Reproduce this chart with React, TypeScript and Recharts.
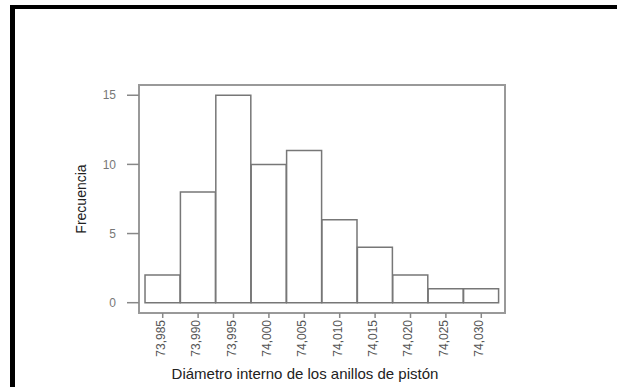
import { BarChart, Bar, XAxis, YAxis, ReferenceArea } from 'recharts';

// histogram bins (class midpoints) and counts
const binCenters = [73.985, 73.99, 73.995, 74.0, 74.005, 74.01, 74.015, 74.02, 74.025, 74.03];
const frequencies = [2, 8, 15, 10, 11, 6, 4, 2, 1, 1];
const yTicks = [0, 5, 10, 15];

const data = binCenters.map((x, i) => ({ x, count: frequencies[i] }));

// axis extents leave a little air between the bars and the frame
const xDomain: [number, number] = [73.98165, 74.03335];
const yDomain: [number, number] = [-0.745, 15.74];

const formatDiameter = (v: number) => v.toFixed(3).replace('.', ',');

function DiameterTick({ x, y, payload }: any) {
  return (
    <g transform={`translate(${x},${y})`}>
      <text transform="rotate(-90)" textAnchor="end" dy={2} fill="#555" fontSize={12}>
        {formatDiameter(payload.value)}
      </text>
    </g>
  );
}

export default function App() {
  return (
    <div
      style={{
        position: 'absolute',
        left: 0,
        top: 0,
        width: 617,
        height: 387,
        background: '#fff',
        overflow: 'hidden',
        fontFamily: '"Liberation Sans", Arial, sans-serif',
      }}
    >
      <div
        style={{
          position: 'absolute',
          left: 10,
          top: 5,
          right: 0,
          bottom: 0,
          borderTop: '4px solid #000',
          borderLeft: '5px solid #000',
        }}
      />
      <div style={{ position: 'absolute', left: 0, top: 0 }}>
        <BarChart
          width={617}
          height={387}
          data={data}
          barCategoryGap={0}
          margin={{ top: 85, right: 112, bottom: 0, left: 79 }}
        >
          <XAxis
            dataKey="x"
            type="number"
            domain={xDomain}
            ticks={binCenters}
            interval={0}
            height={74}
            axisLine={false}
            tickSize={5}
            tickMargin={2}
            tickLine={{ stroke: '#888', strokeWidth: 1.5 }}
            tick={<DiameterTick />}
            label={{
              value: 'Diámetro interno de los anillos de pistón',
              position: 'insideBottom',
              offset: 8,
              dx: -17,
              fill: '#222',
              fontSize: 15,
            }}
          />
          <YAxis
            type="number"
            domain={yDomain}
            ticks={yTicks}
            width={60}
            axisLine={false}
            tickSize={12}
            tickMargin={11}
            tickLine={{ stroke: '#888', strokeWidth: 1.5 }}
            tick={{ fill: '#777', fontSize: 12 }}
            label={{
              value: 'Frecuencia',
              angle: -90,
              position: 'insideLeft',
              offset: 2,
              fill: '#222',
              fontSize: 14,
              style: { textAnchor: 'middle' },
            }}
          />
          <Bar
            dataKey="count"
            fill="#fff"
            stroke="#777"
            strokeWidth={1.5}
            isAnimationActive={false}
          />
          <ReferenceArea
            x1={xDomain[0]}
            x2={xDomain[1]}
            y1={yDomain[0]}
            y2={yDomain[1]}
            fill="none"
            stroke="#999"
            strokeWidth={2}
          />
        </BarChart>
      </div>
    </div>
  );
}
